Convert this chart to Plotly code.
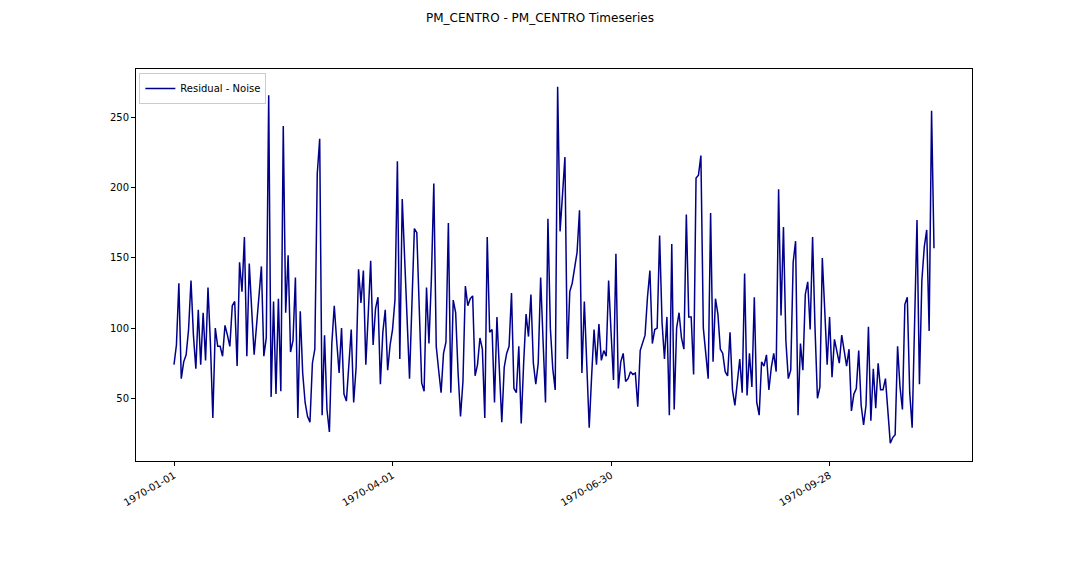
import pandas as pd
import plotly.graph_objects as go

start_date = "1970-01-01"
residual_noise = [
    74, 88, 132, 64, 76, 81, 99, 134, 95, 71,
    113, 74, 111, 77, 129, 89, 36, 100, 87, 87,
    80, 102, 95, 87, 116, 119, 73, 147, 126, 165,
    80, 146, 113, 81, 102, 123, 144, 80, 93, 266,
    51, 119, 53, 121, 55, 244, 111, 152, 83, 91,
    136, 36, 112, 68, 47, 37, 33, 75, 85, 210,
    235, 38, 95, 42, 26, 89, 116, 91, 68, 100,
    53, 48, 75, 99, 47, 72, 142, 118, 141, 74,
    110, 148, 88, 114, 122, 60, 97, 113, 70, 88,
    99, 120, 219, 78, 192, 150, 108, 64, 118, 171,
    168, 114, 61, 55, 129, 89, 135, 203, 87, 70,
    54, 82, 90, 175, 54, 120, 111, 68, 37, 62,
    130, 116, 121, 123, 66, 74, 93, 85, 36, 165,
    97, 99, 47, 108, 70, 33, 72, 82, 87, 125,
    57, 54, 87, 32, 75, 110, 94, 124, 75, 60,
    75, 136, 91, 47, 178, 100, 71, 56, 272, 169,
    195, 222, 78, 126, 132, 143, 154, 184, 68, 119,
    74, 29, 66, 99, 74, 103, 77, 84, 80, 134,
    97, 63, 153, 57, 76, 82, 62, 64, 69, 67,
    68, 44, 84, 90, 95, 122, 141, 89, 99, 100,
    166, 104, 78, 108, 38, 160, 42, 100, 111, 93,
    85, 181, 108, 108, 67, 207, 209, 223, 100, 82,
    64, 182, 76, 121, 110, 85, 82, 69, 66, 97,
    56, 45, 64, 78, 54, 139, 52, 82, 58, 122,
    47, 38, 76, 73, 81, 56, 72, 82, 69, 199,
    109, 172, 91, 64, 70, 147, 162, 38, 89, 70,
    124, 133, 99, 165, 100, 50, 58, 150, 113, 74,
    108, 65, 92, 82, 75, 95, 82, 73, 85, 41,
    53, 57, 84, 45, 31, 45, 101, 34, 71, 43,
    75, 56, 56, 64, 41, 18, 22, 24, 87, 58,
    42, 117, 122, 54, 29, 106, 177, 60, 134, 158,
    170, 98, 255, 157,
]
tick_dates = ["1970-01-01", "1970-04-01", "1970-06-30", "1970-09-28"]
y_ticks = [50, 100, 150, 200, 250]

dates = pd.date_range(start_date, periods=len(residual_noise), freq="D")

# matplotlib-like 5% margins
n = len(residual_noise) - 1
xpad = n * 0.05
x0 = dates[0] - pd.Timedelta(days=xpad)
x1 = dates[-1] + pd.Timedelta(days=xpad)
ymin, ymax = min(residual_noise), max(residual_noise)
ypad = (ymax - ymin) * 0.05

fig = go.Figure()
fig.add_trace(go.Scatter(
    x=dates, y=residual_noise, mode="lines", name="Residual - Noise",
    line=dict(color="#00008B", width=1.5),
))

axis_common = dict(
    showline=True, linecolor="black", linewidth=1, mirror=True,
    ticks="outside", ticklen=4, tickcolor="black", tickwidth=1,
    showgrid=False, zeroline=False,
    tickfont=dict(family="DejaVu Sans", size=10, color="black"),
)

fig.update_layout(
    width=1080, height=576,
    margin=dict(l=128, r=116, t=61, b=123),
    paper_bgcolor="white", plot_bgcolor="white",
    font=dict(family="DejaVu Sans", size=10, color="black"),
    title=dict(text="PM_CENTRO - PM_CENTRO Timeseries", xref="container", x=532 / 1080,
               xanchor="center", yref="container", y=1 - 10 / 576, yanchor="middle",
               font=dict(family="DejaVu Sans", size=12, color="black")),
    xaxis=dict(range=[x0, x1], tickvals=list(pd.to_datetime(tick_dates)), ticktext=tick_dates,
               tickangle=-30, **axis_common),
    yaxis=dict(range=[ymin - ypad, ymax + ypad], tickvals=y_ticks, **axis_common),
    showlegend=True,
    legend=dict(x=0.004, y=0.99, xanchor="left", yanchor="top",
                bgcolor="rgba(255,255,255,0.8)", bordercolor="#cccccc", borderwidth=1,
                itemwidth=30, tracegroupgap=0,
                font=dict(family="DejaVu Sans", size=10, color="black")),
)

fig.write_html("out.html")
